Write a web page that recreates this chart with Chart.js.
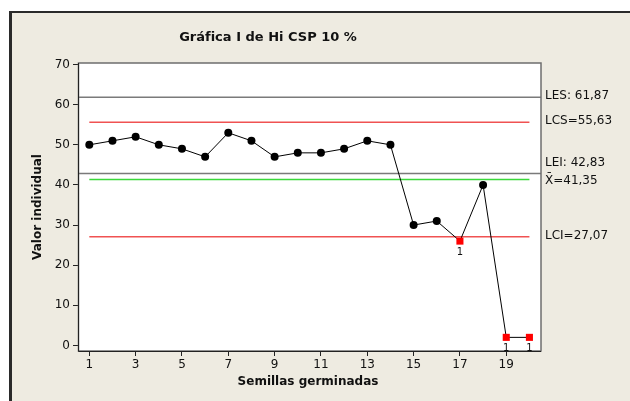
<!DOCTYPE html>
<html lang="es">
<head>
<meta charset="utf-8">
<title>Gráfica I de Hi CSP 10 %</title>
<script src="https://cdn.jsdelivr.net/npm/chart.js@4.4.1/dist/chart.umd.min.js"></script>
<style>
  html, body { margin: 0; padding: 0; background: #fff; }
  canvas { display: block; }
</style>
</head>
<body>
<canvas id="graficaI" width="630" height="401"></canvas>
<script>
// Observaciones individuales (muestra 1..20)
const muestras = [1, 2, 3, 4, 5, 6, 7, 8, 9, 10, 11, 12, 13, 14, 15, 16, 17, 18, 19, 20];
const valores = [50, 51, 52, 50, 49, 47, 53, 51, 47, 48, 48, 49, 51, 50, 30, 31, 26, 40, 2, 2];
// Puntos fuera de control (prueba 1)
const fueraControl = [17, 19, 20];

// Límites de especificación y de control
const LES = 61.87;
const LCS = 55.63;
const LEI = 42.83;
const media = 41.35;
const LCI = 27.07;

const ticksX = [1, 3, 5, 7, 9, 11, 13, 15, 17, 19];
const ticksY = [0, 10, 20, 30, 40, 50, 60, 70];

const X_MIN = 0.555, X_MAX = 20.5;
const FUENTE = '"DejaVu Sans", Verdana, sans-serif';

const esFuera = m => fueraControl.includes(m);

// línea horizontal entre dos valores de x
const linea = (y, x0, x1) => [{ x: x0, y: y }, { x: x1, y: y }];

// fondo, marco, título y etiquetas de los límites
const decorado = {
  id: 'decorado',
  beforeDraw(chart) {
    const { ctx, chartArea: a } = chart;
    ctx.save();
    ctx.fillStyle = '#ffffff';
    ctx.fillRect(0, 0, chart.width, chart.height);
    ctx.fillStyle = '#eeebe1';
    ctx.fillRect(10, 11, chart.width - 10, chart.height - 11);
    ctx.fillStyle = '#2a2a2a';
    ctx.fillRect(9, 11, 3, chart.height - 11);
    ctx.fillRect(9, 11, chart.width - 9, 2);
    ctx.fillStyle = '#ffffff';
    ctx.fillRect(a.left, a.top, a.right - a.left, a.bottom - a.top);
    ctx.restore();
  },
  afterDraw(chart) {
    const { ctx, chartArea: a, scales } = chart;
    const sx = scales.x, sy = scales.y;
    ctx.save();

    // marco del área de trazado
    ctx.strokeStyle = '#6e6e6e';
    ctx.lineWidth = 1.5;
    ctx.strokeRect(a.left - 0.5, a.top, a.right - a.left + 0.5, a.bottom - a.top);
    ctx.strokeStyle = '#222';
    ctx.lineWidth = 1;
    ctx.beginPath();
    ctx.moveTo(a.left - 0.5, a.top);
    ctx.lineTo(a.left - 0.5, a.bottom + 0.5);
    ctx.lineTo(a.right, a.bottom + 0.5);
    ctx.stroke();

    // título
    ctx.fillStyle = '#111';
    ctx.textAlign = 'center';
    ctx.textBaseline = 'middle';
    ctx.font = 'bold 13px ' + FUENTE;
    ctx.fillText('Gráfica I de Hi CSP 10 %', 268, 38);

    // títulos de los ejes
    ctx.font = 'bold 12px ' + FUENTE;
    ctx.fillText('Semillas germinadas', 308, 382);
    ctx.save();
    ctx.translate(38, 207);
    ctx.rotate(-Math.PI / 2);
    ctx.fillText('Valor individual', 0, 0);
    ctx.restore();

    // etiquetas de los límites a la derecha
    ctx.textAlign = 'left';
    ctx.font = '12px ' + FUENTE;
    const xt = a.right + 4;
    ctx.fillText('LES: 61,87', xt, sy.getPixelForValue(LES) - 1);
    ctx.fillText('LCS=55,63', xt, sy.getPixelForValue(LCS) - 1);
    ctx.fillText('LEI: 42,83', xt, sy.getPixelForValue(LEI) - 11);
    ctx.fillText('X\u0304=41,35', xt, sy.getPixelForValue(media) + 1);
    ctx.fillText('LCI=27,07', xt, sy.getPixelForValue(LCI) - 1);

    // número de la prueba fallida debajo de cada punto fuera de control
    ctx.textAlign = 'center';
    ctx.font = '10px ' + FUENTE;
    fueraControl.forEach(m => {
      const v = valores[muestras.indexOf(m)];
      ctx.fillText('1', sx.getPixelForValue(m), sy.getPixelForValue(v) + 11);
    });
    ctx.restore();
  }
};

const puntos = muestras.map((m, i) => ({ x: m, y: valores[i] }));

new Chart(document.getElementById('graficaI').getContext('2d'), {
  type: 'line',
  data: {
    datasets: [
      {
        label: 'Valor individual',
        data: puntos,
        borderColor: '#000',
        borderWidth: 1,
        pointStyle: muestras.map(m => esFuera(m) ? 'rect' : 'circle'),
        pointRadius: muestras.map(m => esFuera(m) ? 5 : 4),
        pointBackgroundColor: muestras.map(m => esFuera(m) ? '#ff0000' : '#000'),
        pointBorderWidth: 0,
        order: 0
      },
      { label: 'LES', data: linea(LES, X_MIN, X_MAX), borderColor: '#7a7a7a', borderWidth: 1.5, pointRadius: 0, order: 2 },
      { label: 'LEI', data: linea(LEI, X_MIN, X_MAX), borderColor: '#7a7a7a', borderWidth: 1.5, pointRadius: 0, order: 2 },
      { label: 'LCS', data: linea(LCS, 1, 20), borderColor: '#f05252', borderWidth: 1.5, pointRadius: 0, order: 1 },
      { label: 'LCI', data: linea(LCI, 1, 20), borderColor: '#f05252', borderWidth: 1.5, pointRadius: 0, order: 1 },
      { label: 'Media', data: linea(media, 1, 20), borderColor: '#3ad83a', borderWidth: 1.5, pointRadius: 0, order: 1 }
    ]
  },
  options: {
    responsive: false,
    animation: false,
    layout: { padding: { left: 0, top: 63, right: 89, bottom: 0 } },
    plugins: {
      legend: { display: false },
      tooltip: { enabled: false }
    },
    scales: {
      x: {
        type: 'linear',
        min: X_MIN,
        max: X_MAX,
        afterBuildTicks: s => { s.ticks = ticksX.map(v => ({ value: v })); },
        afterFit: s => { s.height = 50; },
        grid: { drawOnChartArea: false, tickLength: 5, tickColor: '#222', tickWidth: 1 },
        border: { display: false },
        ticks: { color: '#111', padding: 2, maxRotation: 0, font: { family: FUENTE, size: 12 } }
      },
      y: {
        min: -1.4,
        max: 70.4,
        afterBuildTicks: s => { s.ticks = ticksY.map(v => ({ value: v })); },
        afterFit: s => { s.width = 79; },
        grid: { drawOnChartArea: false, tickLength: 6, tickColor: '#222', tickWidth: 1 },
        border: { display: false },
        ticks: { color: '#111', padding: 3, font: { family: FUENTE, size: 12 } }
      }
    }
  },
  plugins: [decorado]
});
</script>
</body>
</html>
